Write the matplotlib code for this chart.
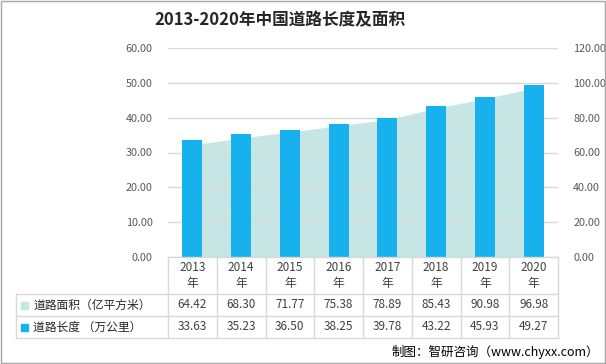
import matplotlib.pyplot as plt
import numpy as np
from matplotlib.patches import Rectangle
from matplotlib.lines import Line2D

plt.rcParams['font.family'] = ['Microsoft YaHei', 'Noto Sans CJK SC', 'DejaVu Sans']

# *** Data *** #
years = ['2013', '2014', '2015', '2016', '2017', '2018', '2019', '2020']
area = [64.42, 68.30, 71.77, 75.38, 78.89, 85.43, 90.98, 96.98]     # 亿平方米 (right axis)
length = [33.63, 35.23, 36.50, 38.25, 39.78, 43.22, 45.93, 49.27]   # 万公里 (left axis)
left_ticks = [0, 10, 20, 30, 40, 50, 60]
right_ticks = [0, 20, 40, 60, 80, 100, 120]
row_labels = ['道路面积（亿平方米）', '道路长度 （万公里）']

bar_color = '#17b1ee'
area_color = '#c6e6e5'
grid_color = '#d9d9d9'
tick_color = '#595959'

W, H = 606, 364
fig = plt.figure(figsize=(W / 100, H / 100), dpi=100)

def fx(px):
    return px / W

def fy(py):
    return 1 - py / H

x0, x1, y_top, y_bot = 168, 558, 48, 257
ax = fig.add_axes([fx(x0), fy(y_bot), fx(x1) - fx(x0), fy(y_top) - fy(y_bot)])
ax2 = ax.twinx()

n = len(years)
xs = np.arange(n)

# area on secondary axis, bars on primary axis
ax2.fill_between(xs, 0, area, color=area_color, lw=0, zorder=1)
ax2.set_ylim(0, 120)
ax2.set_yticks(right_ticks)
ax2.set_yticklabels([f'{v:.2f}' for v in right_ticks], fontsize=7.8, color=tick_color)

ax.set_zorder(ax2.get_zorder() + 1)
ax.patch.set_visible(False)
ax.bar(xs, length, width=0.41, color=bar_color, zorder=3)
ax.set_ylim(0, 60)
ax.set_xlim(-0.5, n - 0.5)
ax.set_yticks(left_ticks)
ax.set_yticklabels([f'{v:.2f}' for v in left_ticks], fontsize=7.8, color=tick_color)
ax.set_xticks([])
ax.grid(axis='y', color=grid_color, lw=1, zorder=0)
for a in (ax, ax2):
    for s in a.spines.values():
        s.set_visible(False)
    a.tick_params(length=0)
ax.tick_params(axis='y', pad=11)
ax2.tick_params(axis='y', pad=11)

# *** Data table under the chart *** #
line_kw = dict(color=grid_color, lw=1, transform=fig.transFigure)
col_w = (x1 - x0) / n
rows_y = [257, 294, 316, 338]
lbl_left = 16
# horizontal lines
fig.add_artist(Line2D([fx(x0), fx(x1)], [fy(257), fy(257)], **line_kw))
for ry in rows_y[1:]:
    fig.add_artist(Line2D([fx(lbl_left), fx(x1)], [fy(ry), fy(ry)], **line_kw))
# vertical lines
for i in range(n + 1):
    cx = x0 + i * col_w
    fig.add_artist(Line2D([fx(cx), fx(cx)], [fy(257), fy(338)], **line_kw))
fig.add_artist(Line2D([fx(lbl_left), fx(lbl_left)], [fy(294), fy(338)], **line_kw))

txt_color = '#404040'
for i, y in enumerate(years):
    cx = x0 + (i + 0.5) * col_w
    fig.text(fx(cx), fy(275.5), f'{y}\n年', ha='center', va='center', fontsize=8.5,
             color=txt_color, linespacing=1.35)
    fig.text(fx(cx), fy(305), f'{area[i]:.2f}', ha='center', va='center', fontsize=8.5, color=txt_color)
    fig.text(fx(cx), fy(327), f'{length[i]:.2f}', ha='center', va='center', fontsize=8.5, color=txt_color)

for ry, lab, col in [(305, row_labels[0], area_color), (327, row_labels[1], bar_color)]:
    fig.add_artist(Rectangle((fx(21), fy(ry + 3.5)), fx(7), fy(0) - fy(7), color=col,
                             transform=fig.transFigure))
    fig.text(fx(33), fy(ry), lab, ha='left', va='center', fontsize=8.5, color='#262626')

# title and source
fig.text(fx(280), fy(20), '2013-2020年中国道路长度及面积', ha='center', va='center',
         fontsize=12, fontweight='bold', color='#262626')
fig.text(fx(599), fy(352), '制图：智研咨询（www.chyxx.com）', ha='right', va='center',
         fontsize=9, color='#000000')

# outer frame
fig.add_artist(Rectangle((0.001, 0.002), 0.997, 0.996, fill=False, edgecolor='#a6a6a6', lw=1,
                         transform=fig.transFigure))

fig.savefig('out.png', dpi=100)
